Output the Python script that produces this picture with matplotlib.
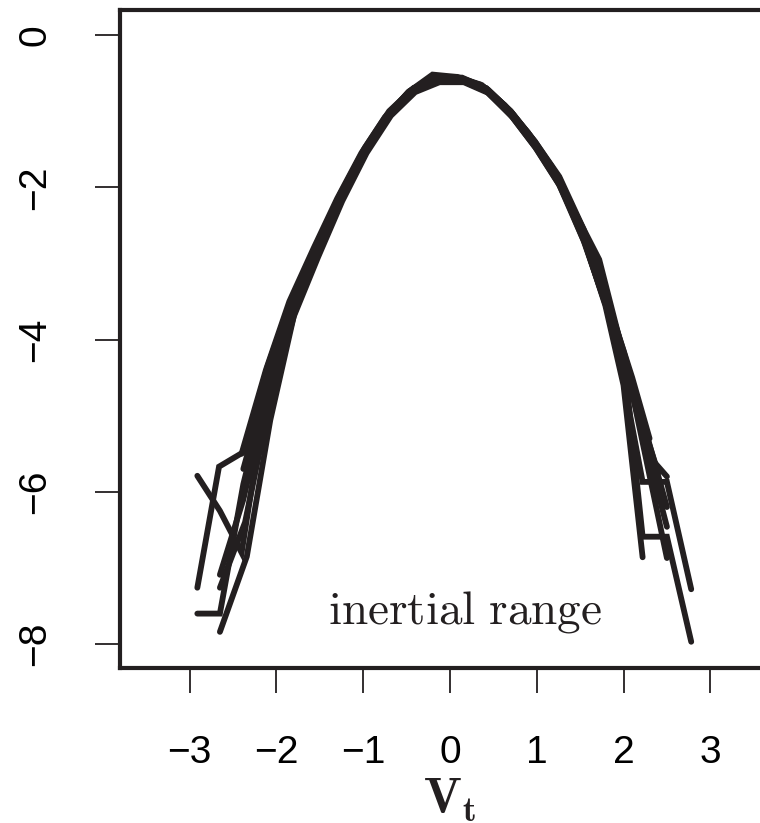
import matplotlib
matplotlib.use("Agg")
import matplotlib.pyplot as plt

plt.rcParams['mathtext.fontset'] = 'cm'
plt.rcParams['font.family'] = ['Liberation Sans', 'DejaVu Sans']

LINE = "#231f20"

# log-density curves, one per series
vt1 = [-2.91, -2.66, -2.38, -2.1, -1.82, -1.54, -1.26, -0.98, -0.7, -0.42, -0.14, 0.14, 0.42, 0.7, 0.98, 1.26, 1.54, 1.82, 2.22, 2.5, 2.78]
ld1 = [-7.26, -5.67, -5.48, -4.35, -3.45, -2.78, -2.08, -1.48, -1.0, -0.7, -0.55, -0.56, -0.7, -1.0, -1.4, -1.86, -2.55, -3.45, -5.87, -5.87, -7.28]

vt2 = [-2.91, -2.65, -2.4, -2.12, -1.85, -1.58, -1.3, -1.03, -0.75, -0.48, -0.2, 0.07, 0.35, 0.62, 0.9, 1.17, 1.45, 1.72, 2.0, 2.22, 2.5, 2.78]
ld2 = [-5.79, -6.25, -6.8, -4.75, -3.7, -2.95, -2.22, -1.6, -1.1, -0.75, -0.52, -0.55, -0.66, -0.95, -1.3, -1.72, -2.35, -2.95, -4.2, -6.59, -6.59, -7.97]

vt3 = [-2.65, -2.34, -2.07, -1.79, -1.52, -1.24, -0.97, -0.69, -0.41, -0.14, 0.14, 0.41, 0.69, 0.97, 1.24, 1.52, 1.79, 2.0, 2.22]
ld3 = [-7.84, -6.85, -5.06, -3.65, -2.85, -2.1, -1.5, -1.04, -0.74, -0.6, -0.6, -0.72, -1.02, -1.42, -1.92, -2.6, -3.55, -4.6, -6.86]

vt4 = [-2.91, -2.65, -2.38, -2.1, -1.83, -1.55, -1.28, -1.0, -0.73, -0.45, -0.18, 0.1, 0.37, 0.65, 0.92, 1.2, 1.47, 1.75, 2.02, 2.3, 2.5]
ld4 = [-7.6, -7.6, -5.9, -4.6, -3.6, -2.9, -2.18, -1.55, -1.07, -0.73, -0.58, -0.57, -0.66, -0.95, -1.33, -1.8, -2.4, -3.25, -4.3, -5.54, -5.8]

vt5 = [-2.65, -2.38, -2.1, -1.82, -1.54, -1.26, -0.98, -0.7, -0.42, -0.14, 0.14, 0.42, 0.7, 0.98, 1.26, 1.54, 1.82, 2.1, 2.5]
ld5 = [-7.09, -6.1, -4.7, -3.62, -2.88, -2.15, -1.53, -1.05, -0.74, -0.6, -0.6, -0.74, -1.05, -1.47, -1.97, -2.7, -3.62, -4.7, -6.87]

vt6 = [-2.65, -2.36, -2.08, -1.8, -1.52, -1.24, -0.96, -0.68, -0.4, -0.12, 0.16, 0.44, 0.72, 1.0, 1.28, 1.56, 1.84, 2.12, 2.5]
ld6 = [-7.26, -6.4, -4.85, -3.7, -2.92, -2.18, -1.55, -1.06, -0.75, -0.62, -0.62, -0.76, -1.08, -1.5, -2.0, -2.75, -3.7, -4.8, -6.46]

vt7 = [-2.4, -2.12, -1.85, -1.57, -1.3, -1.02, -0.75, -0.47, -0.2, 0.08, 0.35, 0.63, 0.9, 1.18, 1.45, 1.73, 2.0, 2.28, 2.5]
ld7 = [-5.5, -4.4, -3.5, -2.8, -2.15, -1.55, -1.08, -0.74, -0.55, -0.55, -0.65, -0.92, -1.28, -1.75, -2.38, -3.2, -4.15, -5.3, -6.2]

vt8 = [-2.38, -2.1, -1.82, -1.54, -1.26, -0.98, -0.7, -0.42, -0.14, 0.14, 0.42, 0.7, 0.98, 1.26, 1.54, 1.82, 2.1, 2.3]
ld8 = [-5.7, -4.55, -3.55, -2.83, -2.1, -1.5, -1.02, -0.7, -0.56, -0.57, -0.7, -1.0, -1.4, -1.88, -2.6, -3.5, -4.5, -5.3]

vt9 = [-2.36, -2.08, -1.8, -1.52, -1.24, -0.96, -0.68, -0.4, -0.12, 0.16, 0.44, 0.72, 1.0, 1.28, 1.56, 1.84, 2.12, 2.4]
ld9 = [-5.95, -4.7, -3.6, -2.87, -2.14, -1.52, -1.04, -0.72, -0.57, -0.58, -0.72, -1.03, -1.45, -1.95, -2.68, -3.62, -4.75, -5.75]

curves = [(vt1, ld1), (vt2, ld2), (vt3, ld3), (vt4, ld4), (vt5, ld5),
          (vt6, ld6), (vt7, ld7), (vt8, ld8), (vt9, ld9)]

xticks = [-3, -2, -1, 0, 1, 2, 3]
yticks = [0, -2, -4, -6, -8]


fig = plt.figure(figsize=(7.6, 8.23), dpi=100)
ax = fig.add_axes((0.158, 0.1883, 0.868, 0.7997))

for x, y in curves:
    ax.plot(x, y, color=LINE, lw=4.2, solid_joinstyle='miter', solid_capstyle='round')

ax.set_xlim(-3.8, 3.8)
ax.set_ylim(-8.315, 0.33)
ax.set_xticks(xticks)
ax.set_yticks(yticks)
ax.set_xticklabels([str(t).replace('-', '\u2212') for t in xticks])
ax.set_yticklabels([str(t).replace('-', '\u2212') for t in yticks], rotation=90, va='center')

for s in ax.spines.values():
    s.set_linewidth(3)
    s.set_color(LINE)
ax.tick_params(direction='out', length=18, width=1.3, color=LINE, labelsize=28)
ax.tick_params(axis='x', pad=30)
ax.tick_params(axis='y', pad=30)

ax.text(0.17, -7.58, r'$\mathrm{inertial\ range}$', fontsize=34, color=LINE,
        ha='center', va='center')
ax.set_xlabel(r'$\mathbf{V}_{\mathbf{t}}$', fontsize=36, color=LINE, labelpad=4)

fig.savefig("out.png", dpi=100)
